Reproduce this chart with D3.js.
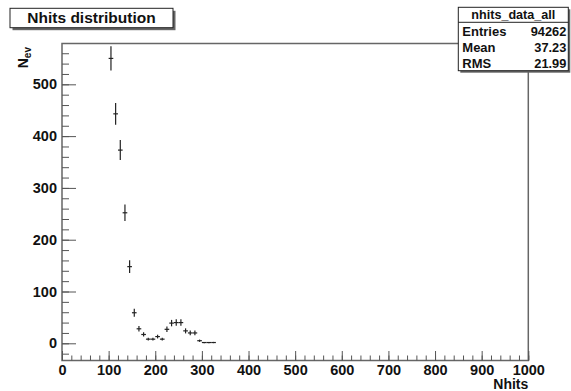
<!DOCTYPE html>
<html>
<head>
<meta charset="utf-8">
<script src="https://cdn.jsdelivr.net/npm/d3@7"></script>
<style>
  body { margin: 0; background: #fff; }
  text { font-family: "Liberation Sans", Arial, sans-serif; font-weight: bold; fill: #111; }
</style>
</head>
<body>
<div id="chart"></div>
<script>
// histogram bins (bin width 10)
var binCenters = [105, 115, 125, 135, 145, 155, 165, 175, 185, 195, 205, 215, 225, 235, 245, 255, 265, 275, 285, 295, 305, 315, 325];
var counts     = [550, 443, 373, 252, 148, 59, 28, 17, 8, 8, 13, 8, 27, 39, 40, 40, 24, 20, 20, 5, 1.5, 1.5, 1.5];
var errs       = [23.5, 21, 19.3, 15.9, 12.2, 7.7, 5.3, 4.1, 2.8, 2.8, 3.6, 2.8, 5.2, 6.2, 6.3, 6.3, 4.9, 4.5, 4.5, 2.2, 1.2, 1.2, 1.2];
var binWidth = 10;

var xTicks = [0, 100, 200, 300, 400, 500, 600, 700, 800, 900, 1000];
var yTicks = [0, 100, 200, 300, 400, 500];

var statLabels = ["Entries", "Mean", "RMS"];
var statValues = ["94262", "37.23", "21.99"];

var W = 571, H = 391;
var frame = {left: 62, right: 528.3, top: 43.5, bottom: 360.5};

var svg = d3.select("#chart").append("svg")
    .attr("width", W)
    .attr("height", H);

var x = d3.scaleLinear().domain([0, 1000]).range([frame.left, frame.right]);
var y = d3.scaleLinear().domain([-33.2, 578.8]).range([frame.bottom, frame.top]);

// frame
svg.append("rect")
    .attr("x", frame.left).attr("y", frame.top)
    .attr("width", frame.right - frame.left)
    .attr("height", frame.bottom - frame.top)
    .attr("fill", "none")
    .attr("stroke", "#666")
    .attr("stroke-width", 1.5);

// x axis, major + minor ticks (inward)
var xMinor = d3.range(0, 1001, 20);
svg.append("g")
    .attr("transform", "translate(0," + frame.bottom + ")")
    .call(d3.axisBottom(x).tickValues(xMinor).tickSize(-5).tickSizeOuter(0).tickFormat(""))
    .call(g => g.select(".domain").remove())
    .selectAll("line").attr("stroke", "#555");

var xAx = svg.append("g")
    .attr("transform", "translate(0," + frame.bottom + ")")
    .call(d3.axisBottom(x).tickValues(xTicks).tickFormat(d3.format("d"))
        .tickSize(-9.5).tickSizeOuter(0).tickPadding(4));
xAx.select(".domain").remove();
xAx.selectAll("line").attr("stroke", "#555");
xAx.selectAll("text")
    .attr("font-size", "14.5px")
    .attr("font-family", "Liberation Sans, Arial, sans-serif")
    .attr("font-weight", "bold")
    .attr("fill", "#111")
    .attr("dy", "0.71em");

// y axis
var yMinor = d3.range(-20, 579, 20);
svg.append("g")
    .attr("transform", "translate(" + frame.left + ",0)")
    .call(d3.axisLeft(y).tickValues(yMinor).tickSize(-7).tickSizeOuter(0).tickFormat(""))
    .call(g => g.select(".domain").remove())
    .selectAll("line").attr("stroke", "#555");

var yAx = svg.append("g")
    .attr("transform", "translate(" + frame.left + ",0)")
    .call(d3.axisLeft(y).tickValues(yTicks).tickFormat(d3.format("d"))
        .tickSize(-14).tickSizeOuter(0).tickPadding(5));
yAx.select(".domain").remove();
yAx.selectAll("line").attr("stroke", "#555");
yAx.selectAll("text")
    .attr("font-size", "14.5px")
    .attr("font-family", "Liberation Sans, Arial, sans-serif")
    .attr("font-weight", "bold")
    .attr("fill", "#111");

// axis titles
svg.append("text")
    .attr("x", frame.right)
    .attr("y", 389)
    .attr("text-anchor", "end")
    .attr("font-size", "14px")
    .text("Nhits");

var yt = svg.append("text")
    .attr("transform", "translate(28,47) rotate(-90)")
    .attr("text-anchor", "end")
    .attr("font-size", "14px");
yt.append("tspan").text("N");
yt.append("tspan").attr("font-size", "10px").attr("dy", 3).text("ev");

// error bars
var bars = svg.append("g")
    .attr("stroke", "#222")
    .attr("stroke-width", 1.2);

binCenters.forEach(function(c, i) {
    bars.append("line")
        .attr("x1", x(c)).attr("x2", x(c))
        .attr("y1", y(counts[i] - errs[i]))
        .attr("y2", Math.max(y(counts[i] + errs[i]), frame.top));
    bars.append("line")
        .attr("x1", x(c - binWidth / 2)).attr("x2", x(c + binWidth / 2))
        .attr("y1", y(counts[i])).attr("y2", y(counts[i]));
});

// title box
var tb = {x: 10, y: 8.3, w: 163, h: 19.4};
svg.append("rect")
    .attr("x", tb.x + 2.5).attr("y", tb.y + 2.5)
    .attr("width", tb.w).attr("height", tb.h)
    .attr("fill", "#666");
svg.append("rect")
    .attr("x", tb.x).attr("y", tb.y)
    .attr("width", tb.w).attr("height", tb.h)
    .attr("fill", "#fff")
    .attr("stroke", "#222")
    .attr("stroke-width", 1);
svg.append("text")
    .attr("x", tb.x + tb.w / 2)
    .attr("y", 23.3)
    .attr("text-anchor", "middle")
    .attr("font-size", "15.5px")
    .text("Nhits distribution");

// stats box
var sb = {x: 458.3, y: 7.3, w: 110, h: 63.4};
svg.append("rect")
    .attr("x", sb.x + 2).attr("y", sb.y + 2)
    .attr("width", sb.w).attr("height", sb.h)
    .attr("fill", "#666");
svg.append("rect")
    .attr("x", sb.x).attr("y", sb.y)
    .attr("width", sb.w).attr("height", sb.h)
    .attr("fill", "#fff")
    .attr("stroke", "#222")
    .attr("stroke-width", 1);
svg.append("line")
    .attr("x1", sb.x).attr("x2", sb.x + sb.w)
    .attr("y1", 22.3).attr("y2", 22.3)
    .attr("stroke", "#222");
svg.append("text")
    .attr("x", sb.x + sb.w / 2)
    .attr("y", 19.3)
    .attr("text-anchor", "middle")
    .attr("font-size", "12.6px")
    .text("nhits_data_all");

var rowBase = [35.5, 52, 67.5];
statLabels.forEach(function(l, i) {
    svg.append("text")
        .attr("x", sb.x + 4)
        .attr("y", rowBase[i])
        .attr("font-size", "13px")
        .text(l);
    svg.append("text")
        .attr("x", sb.x + sb.w - 2)
        .attr("y", rowBase[i])
        .attr("text-anchor", "end")
        .attr("font-size", "12.8px")
        .text(statValues[i]);
});
</script>
</body>
</html>
